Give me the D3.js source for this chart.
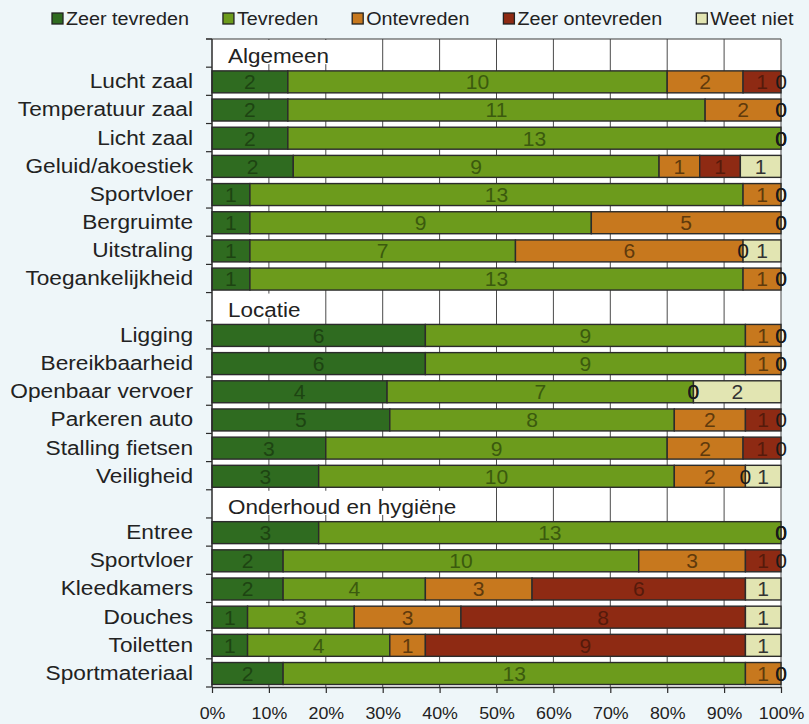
<!DOCTYPE html>
<html>
<head>
<meta charset="utf-8">
<script src="https://cdn.jsdelivr.net/npm/d3@7"></script>
<style>
  html, body { margin: 0; padding: 0; background: #eef6f9; }
  svg { display: block; }
  text { font-family: "Liberation Sans", Arial, sans-serif; }
</style>
</head>
<body>
<svg id="chart" width="809" height="724"></svg>
<script>
// ---------- DATA ----------
// null = group header row (no bar)
const categories = [null, "Lucht zaal", "Temperatuur zaal", "Licht zaal", "Geluid/akoestiek", "Sportvloer", "Bergruimte", "Uitstraling", "Toegankelijkheid",
  null, "Ligging", "Bereikbaarheid", "Openbaar vervoer", "Parkeren auto", "Stalling fietsen", "Veiligheid",
  null, "Entree", "Sportvloer", "Kleedkamers", "Douches", "Toiletten", "Sportmateriaal"];
const groupTitles = ["Algemeen", "Locatie", "Onderhoud en hygiëne"];
const seriesNames = ["Zeer tevreden", "Tevreden", "Ontevreden", "Zeer ontevreden", "Weet niet"];
const zeerTevreden   = [null, 2, 2, 2, 2, 1, 1, 1, 1,  null, 6, 6, 4, 5, 3, 3,  null, 3, 2, 2, 1, 1, 2];
const tevreden       = [null, 10, 11, 13, 9, 13, 9, 7, 13, null, 9, 9, 7, 8, 9, 10, null, 13, 10, 4, 3, 4, 13];
const ontevreden     = [null, 2, 2, 0, 1, 1, 5, 6, 1,  null, 1, 1, 0, 2, 2, 2,  null, 0, 3, 3, 3, 1, 1];
const zeerOntevreden = [null, 1, 0, 0, 1, 0, 0, 0, 0,  null, 0, 0, 0, 1, 1, 0,  null, 0, 1, 6, 8, 9, 0];
const weetNiet       = [null, 0, 0, 0, 1, 0, 0, 1, 0,  null, 0, 0, 2, 0, 0, 1,  null, 0, 0, 1, 1, 1, 0];
const tickLabels = ["0%", "10%", "20%", "30%", "40%", "50%", "60%", "70%", "80%", "90%", "100%"];

// ---------- STYLE ----------
const colors = ["#2f6b20", "#6c9b1c", "#c7781e", "#8e2a13", "#e2e5b2"];
const labelColors = ["#1d4412", "#3b5a0e", "#5f3a0c", "#561a0b", "#333"];
const SX = 1.08; // horizontal stretch of the glyphs

const svg = d3.select("#chart");
const margin = { left: 212, right: 28, top: 39, bottom: 37 };
const W = 809, H = 724;
const x = d3.scaleLinear().domain([0, 1]).range([margin.left, W - margin.right]);
const y = d3.scaleBand().domain(d3.range(categories.length)).range([margin.top, H - margin.bottom]).paddingInner(0).paddingOuter(0);
const barPad = 0.22;
const barH = y.bandwidth() * (1 - barPad);

function stretchedText(g, tx, ty, str, size, anchor) {
  return g.append("text")
    .attr("transform", `translate(${tx},${ty}) scale(${SX},1)`)
    .attr("text-anchor", anchor || "start")
    .attr("font-size", size)
    .text(str);
}

// rows
const seriesArrays = [zeerTevreden, tevreden, ontevreden, zeerOntevreden, weetNiet];
const rows = categories.map((c, i) => {
  const o = { idx: i, name: c };
  seriesNames.forEach((s, k) => { o[s] = seriesArrays[k][i]; });
  return o;
});
const dataRows = rows.filter(r => r.name !== null);
const headerRows = rows.filter(r => r.name === null).map((r, j) => ({ idx: r.idx, title: groupTitles[j] }));

const stack = d3.stack().keys(seriesNames).offset(d3.stackOffsetExpand);
const stacked = stack(dataRows);

// plot background
svg.append("rect").attr("x", x(0)).attr("y", margin.top)
  .attr("width", x(1) - x(0)).attr("height", H - margin.bottom - margin.top)
  .attr("fill", "#ffffff");

// gridlines
svg.append("g").selectAll("line").data(d3.range(1, 11).map(d => d / 10)).join("line")
  .attr("x1", d => x(d)).attr("x2", d => x(d))
  .attr("y1", margin.top).attr("y2", H - margin.bottom)
  .attr("stroke", "#4a4a4a").attr("stroke-width", 1);

// top border
svg.append("line").attr("x1", x(0) - 6).attr("x2", x(1)).attr("y1", margin.top).attr("y2", margin.top)
  .attr("stroke", "#3a3a3a").attr("stroke-width", 1.2);

// group headers with white boxes
const hg = svg.append("g");
headerRows.forEach(h => {
  const t = stretchedText(hg, x(0) + 16, y(h.idx) + y.bandwidth() - 4, h.title, 20.8).attr("fill", "#222");
  const w = t.node().getComputedTextLength() * SX;
  hg.insert("rect", "text")
    .attr("x", x(0) + 1).attr("y", y(h.idx) + 1)
    .attr("width", w + 24).attr("height", y.bandwidth() - 4)
    .attr("fill", "#ffffff");
});

// bars
const barG = svg.append("g");
stacked.forEach((layer, k) => {
  barG.append("g").selectAll("rect").data(layer).join("rect")
    .attr("x", d => x(d[0]))
    .attr("width", d => Math.max(0, x(d[1]) - x(d[0])))
    .attr("y", d => y(d.data.idx) + (y.bandwidth() - barH) / 2 + 0.6)
    .attr("height", barH)
    .attr("fill", colors[k])
    .attr("stroke", "#2b2b2b").attr("stroke-width", 1.4);
});

// value labels
const lblG = svg.append("g");
stacked.forEach((layer, k) => {
  layer.forEach(d => {
    const v = d.data[seriesNames[k]];
    const cx = x((d[0] + d[1]) / 2);
    const cy = y(d.data.idx) + y.bandwidth() / 2 + 8;
    stretchedText(lblG, cx, cy, String(v), 19.5, "middle")
      .attr("fill", v === 0 ? "#1a1a1a" : labelColors[k]);
  });
});

// category labels
const catG = svg.append("g");
dataRows.forEach(r => {
  stretchedText(catG, 193, y(r.idx) + y.bandwidth() / 2 + 7, r.name, 21, "end").attr("fill", "#222");
});

// left axis line and ticks
svg.append("line").attr("x1", x(0)).attr("x2", x(0)).attr("y1", margin.top).attr("y2", H - margin.bottom)
  .attr("stroke", "#2b2b2b").attr("stroke-width", 1.5);
svg.append("g").selectAll("line").data(d3.range(categories.length + 1)).join("line")
  .attr("x1", x(0) - 6).attr("x2", x(0))
  .attr("y1", d => margin.top + d * y.step()).attr("y2", d => margin.top + d * y.step())
  .attr("stroke", "#2b2b2b").attr("stroke-width", 1.2);

// bottom axis
const xAxis = d3.axisBottom(x).tickValues(d3.range(0, 11).map(d => d / 10))
  .tickFormat((d, i) => tickLabels[i]).tickSize(6).tickSizeOuter(0);
const axG = svg.append("g").attr("transform", `translate(0,${H - margin.bottom})`).call(xAxis);
axG.select(".domain").attr("stroke", "#2b2b2b").attr("stroke-width", 1.5);
axG.selectAll(".tick line").attr("stroke", "#2b2b2b").attr("stroke-width", 1.2);
axG.selectAll(".tick text").each(function () {
  const t = d3.select(this);
  t.attr("font-size", 16.5).attr("fill", "#222").attr("y", 0).attr("dy", 0)
    .attr("transform", `translate(0,32) scale(${SX},1)`)
    .attr("font-family", "Liberation Sans, Arial, sans-serif");
});

// legend
const legG = svg.append("g");
let lx = 52;
seriesNames.forEach((s, k) => {
  legG.append("rect").attr("x", lx).attr("y", 13).attr("width", 11).attr("height", 11)
    .attr("fill", colors[k]).attr("stroke", "#222").attr("stroke-width", 1.3);
  const t = stretchedText(legG, lx + 14, 24.5, s, 18.3).attr("fill", "#222");
  const w = t.node().getComputedTextLength() * SX;
  lx += 14 + w + 34;
});
</script>
</body>
</html>
